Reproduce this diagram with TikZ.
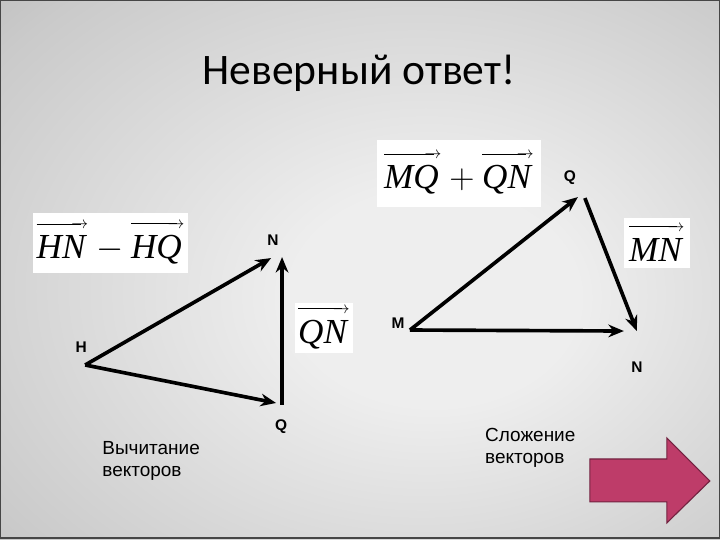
\documentclass[tikz,border=0pt]{standalone}
\usepackage{fontspec}
\setmainfont{Liberation Sans}
\newfontfamily\titlefont{Carlito}
\newfontfamily\timesfont{Liberation Serif}
\usepackage{tikz}
\usetikzlibrary{positioning,arrows.meta}
\definecolor{bglight}{RGB}{238,238,238}
\definecolor{bgmid}{RGB}{202,202,202}
\definecolor{bgedge}{RGB}{172,172,172}
\definecolor{bgdark}{RGB}{148,148,148}
\definecolor{framegray}{RGB}{70,70,70}
\definecolor{arrowpink}{RGB}{190,60,105}
\definecolor{arrowdark}{RGB}{115,35,65}
\pgfdeclareradialshading{slidebg}{\pgfpoint{6bp}{-3bp}}{%
  color(0bp)=(bglight); color(10bp)=(bglight); color(35bp)=(bgmid);
  color(50bp)=(bgedge); color(72bp)=(bgdark)}
\newcommand{\thinarrowfill}{$\mathsurround0pt\scriptscriptstyle
  \leaders\hrule height\dimexpr\fontdimen22\scriptscriptfont2+0.35pt\relax
  depth-\dimexpr\fontdimen22\scriptscriptfont2-0.35pt\relax\hfill
  \mkern-10mu\rightarrow$}
\newcommand{\vecname}[1]{\vbox{\offinterlineskip\halign{##\cr
  \thinarrowfill\cr\noalign{\kern5pt}\hbox{\timesfont\itshape #1\kern2pt}\cr}}}
\tikzset{
  vector/.style={-{Stealth[length=11pt,width=9pt]}, line width=2.6pt, draw=black},
  point/.style={font=\bfseries\fontsize{11}{13}\selectfont, text=black, inner sep=0pt},
  caption/.style={font=\fontsize{13.5}{16}\selectfont, align=left, inner sep=0pt, text=black},
  formula/.style={
    fill=white,
    draw=none,
    inner sep=0pt,
    font=\fontsize{25}{30}\selectfont
  }
}
\begin{document}
\begin{tikzpicture}[x=0.025cm, y=-0.025cm]

% Slide background
\shade[shading=slidebg] (0,0) rectangle (720,540);
\draw[framegray, line width=1pt] (0.5,0.5) rectangle (719.5,538);
\useasboundingbox (0,0) rectangle (720,540);

% Title
\node[anchor=base, font=\titlefont\fontsize{31}{36}\selectfont] (title) at (359,84) {Неверный ответ!};

% Formula boxes
\node[formula, minimum width=3.875cm, minimum height=1.5cm] (hnhq) at (110.5,243) {$\vecname{HN}-\vecname{HQ}$};
\node[formula, minimum width=1.45cm, minimum height=1.25cm] (qnbox) at (324,328) {$\vecname{QN}$};
\node[formula, minimum width=4.1cm, minimum height=1.675cm] (mqqn) at (459,173.5) {$\vecname{MQ}+\vecname{QN}$};
\node[formula, minimum width=1.65cm, minimum height=1.25cm] (mnbox) at (657,243) {$\vecname{MN}$};

% Left triangle: subtraction
\coordinate (H) at (85,365);
\coordinate (Nl) at (271,258);
\coordinate (Nv) at (282,257);
\coordinate (Ql) at (276,403);
\coordinate (Qv) at (282,405);

\draw[vector] (H) -- (Nl);
\draw[vector] (H) -- (Ql);
\draw[vector] (Qv) -- (Nv);

\node[point] (labH) at (81,347) {H};
\node[point] (labNl) at (273,240) {N};
\node[point] (labQl) at (281,427) {Q};

% Right triangle: addition
\coordinate (M) at (410,330);
\coordinate (Qr) at (578,197);
\coordinate (Qs) at (585,198);
\coordinate (Nr) at (637,331);
\coordinate (Nm) at (624,331);

\draw[vector] (M) -- (Qr);
\draw[vector] (Qs) -- (Nr);
\draw[vector] (M) -- (Nm);

\node[point] (labM) at (398,323) {M};
\node[point] (labQr) at (570,178) {Q};
\node[point] (labNr) at (637,367) {N};

% Captions
\node[caption, anchor=base west] (sub) at (102,477) {Вычитание\\векторов};
\node[caption, anchor=base west] (add) at (485,464) {Сложение\\векторов};

% Next button
\draw[arrowdark, fill=arrowpink, line width=0.8pt]
  (590,459) -- (667,459) -- (667,438) -- (710,481) -- (667,523) -- (667,502) -- (590,502) -- cycle;

\end{tikzpicture}
\end{document}
